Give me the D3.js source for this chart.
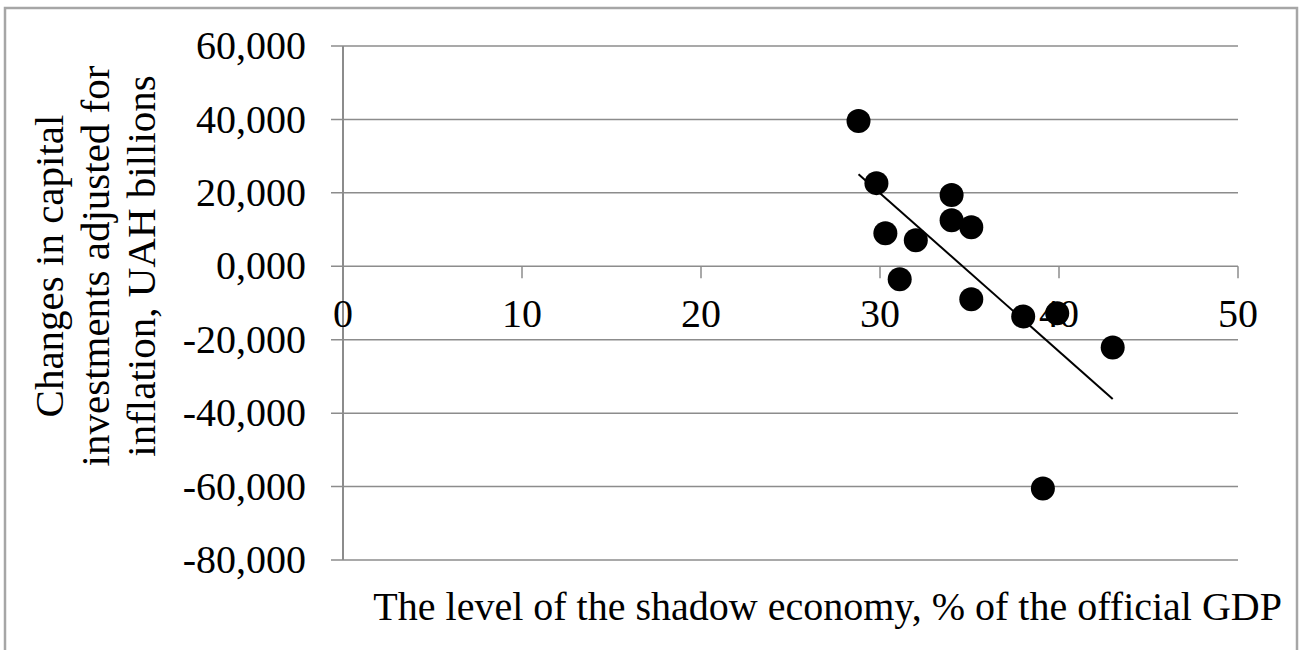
<!DOCTYPE html>
<html>
<head>
<meta charset="utf-8">
<script src="https://cdn.jsdelivr.net/npm/d3@7"></script>
<style>
  body { margin: 0; background: #fff; }
  svg { display: block; font-family: "Liberation Serif", "Times New Roman", serif; }
</style>
</head>
<body>
<div class="chart"></div>
<script>
// shadow economy, % of GDP
var shadowLevel = [28.8, 29.8, 34.0, 34.0, 35.1, 30.3, 32.0, 31.1, 35.1, 38.0, 39.9, 43.0, 39.1];
// change in capital investments, UAH bn
var investChange = [39600, 22650, 19400, 12550, 10650, 9000, 7100, -3550, -9000, -13650, -12800, -22100, -60550];

var xTicks = [0, 10, 20, 30, 40, 50];
var yTicks = [60000, 40000, 20000, 0, -20000, -40000, -60000, -80000];
var yTitle = ["Changes in capital", "investments adjusted for", "inflation, UAH billions"];
var xTitle = "The level of the shadow economy, % of the official GDP";

var width = 1300,
    height = 650,
    margin = {top: 46, right: 62, bottom: 90, left: 343};

var svg = d3.select("div.chart").append("svg")
    .attr("width", width)
    .attr("height", height);

// frame (no bottom edge visible in the original)
svg.append("path")
    .attr("d", "M5,650 V8 H1297 V650")
    .attr("fill", "none")
    .attr("stroke", "#a6a6a6")
    .attr("stroke-width", 2.5);

var x = d3.scaleLinear()
    .domain([0, 50])
    .range([margin.left, width - margin.right]);

var y = d3.scaleLinear()
    .domain([-80000, 60000])
    .range([height - margin.bottom, margin.top]);

var fmt = function(d) {
  if (d == 0) return "0,000";
  return d3.format(",")(d).replace("\u2212", "-");
};

// horizontal gridlines + y ticks
svg.append("g")
    .selectAll("line")
    .data(yTicks)
  .enter().append("line")
    .attr("x1", margin.left - 12)
    .attr("x2", x(50))
    .attr("y1", function(d) { return y(d); })
    .attr("y2", function(d) { return y(d); })
    .attr("stroke", "#8c8c8c")
    .attr("stroke-width", 1.5);

svg.append("line")
    .attr("x1", x(0))
    .attr("x2", x(0))
    .attr("y1", y(60000))
    .attr("y2", y(-80000))
    .attr("stroke", "#8c8c8c")
    .attr("stroke-width", 2);

svg.append("g")
    .selectAll("text")
    .data(yTicks)
  .enter().append("text")
    .attr("x", 306)
    .attr("y", function(d) { return y(d); })
    .attr("dy", "0.33em")
    .attr("text-anchor", "end")
    .attr("font-size", 40)
    .attr("fill", "#000")
    .text(fmt);

// x ticks hang below the zero line
svg.append("g")
    .selectAll("line")
    .data(xTicks)
  .enter().append("line")
    .attr("x1", function(d) { return x(d); })
    .attr("x2", function(d) { return x(d); })
    .attr("y1", y(0))
    .attr("y2", y(0) + 12)
    .attr("stroke", "#8c8c8c")
    .attr("stroke-width", 1.5);

svg.append("g")
    .selectAll("text")
    .data(xTicks)
  .enter().append("text")
    .attr("x", function(d) { return x(d); })
    .attr("y", y(0) + 61)
    .attr("text-anchor", "middle")
    .attr("font-size", 40)
    .attr("fill", "#000")
    .text(function(d) { return d; });

// linear trend from least squares
var mx = d3.mean(shadowLevel),
    my = d3.mean(investChange),
    sxy = d3.sum(shadowLevel, function(v, i) { return (v - mx) * (investChange[i] - my); }),
    sxx = d3.sum(shadowLevel, function(v) { return (v - mx) * (v - mx); }),
    slope = sxy / sxx,
    icpt = my - slope * mx;
var ext = d3.extent(shadowLevel);

svg.append("line")
    .attr("x1", x(ext[0]))
    .attr("x2", x(ext[1]))
    .attr("y1", y(icpt + slope * ext[0]))
    .attr("y2", y(icpt + slope * ext[1]))
    .attr("stroke", "#000")
    .attr("stroke-width", 2);

svg.append("g")
    .selectAll("circle")
    .data(shadowLevel)
  .enter().append("circle")
    .attr("cx", function(d) { return x(d); })
    .attr("cy", function(d, i) { return y(investChange[i]); })
    .attr("r", 12)
    .attr("fill", "#000");

// titles
svg.append("text")
    .attr("x", 1282)
    .attr("y", 620)
    .attr("text-anchor", "end")
    .attr("font-size", 40)
    .attr("fill", "#000")
    .text(xTitle);

var yt = svg.append("text")
    .attr("transform", "translate(0,266) rotate(-90)")
    .attr("text-anchor", "middle")
    .attr("font-size", 41)
    .attr("fill", "#000");

yt.selectAll("tspan")
    .data(yTitle)
  .enter().append("tspan")
    .attr("x", 0)
    .attr("y", function(d, i) { return 63 + i * 46; })
    .text(function(d) { return d; });
</script>
</body>
</html>
